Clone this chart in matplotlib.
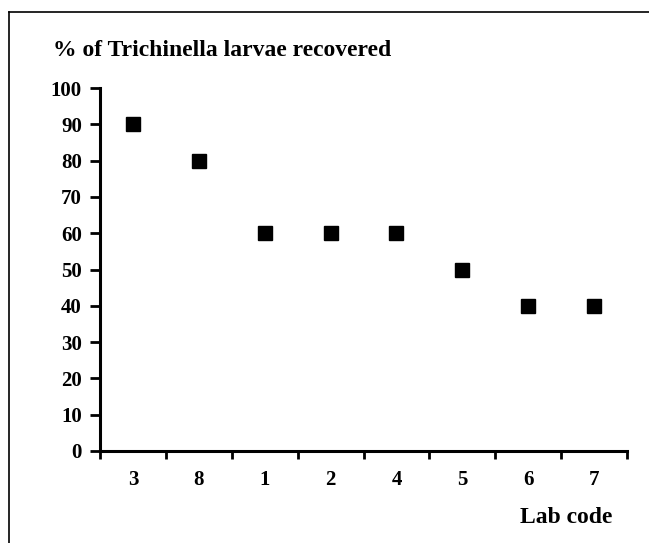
import matplotlib
matplotlib.use("Agg")
import matplotlib.pyplot as plt
from matplotlib.lines import Line2D

labs = ["3", "8", "1", "2", "4", "5", "6", "7"]
recovered = [90, 80, 60, 60, 60, 50, 40, 40]

plt.rcParams['font.family'] = ['Liberation Serif', 'DejaVu Serif']
plt.rcParams['font.weight'] = 'bold'

fig = plt.figure(figsize=(6.49, 5.43), dpi=100)
ax = fig.add_axes([100/649, 92/543, 527/649, 363/543])

x = list(range(len(labs)))
ax.plot(x, recovered, linestyle='none', marker='s', markersize=10, color='black')

ax.set_xlim(-0.5, len(labs) - 0.5)
ax.set_ylim(0, 100)
ax.set_yticks(range(0, 101, 10))
ax.set_xticks(x)
ax.set_xticklabels(labs)
ax.set_xticks([i - 0.5 for i in range(len(labs) + 1)], minor=True)
ax.tick_params(axis='x', which='major', length=0, pad=14, labelsize=15)
ax.tick_params(axis='x', which='minor', length=6, width=2, direction='out')
ax.tick_params(axis='y', length=7, width=2, direction='out', labelsize=15, pad=6)
for lab in ax.get_xticklabels() + ax.get_yticklabels():
    lab.set_fontweight('bold')

for side in ['top', 'right']:
    ax.spines[side].set_visible(False)
for side in ['left', 'bottom']:
    ax.spines[side].set_linewidth(2.2)

fig.text(53/649, 1 - 56/543, "% of Trichinella larvae recovered", fontsize=17,
         fontweight='bold', ha='left', va='baseline')
fig.text(612/649, 1 - 523/543, "Lab code", fontsize=17, fontweight='bold',
         ha='right', va='baseline')

# frame (only top and left visible in the crop)
fig.add_artist(Line2D([9/649, 1], [1 - 12/543, 1 - 12/543], color='black', linewidth=1.2, transform=fig.transFigure))
fig.add_artist(Line2D([9/649, 9/649], [0, 1 - 12/543], color='black', linewidth=1.2, transform=fig.transFigure))

fig.savefig("out.png", dpi=100)
